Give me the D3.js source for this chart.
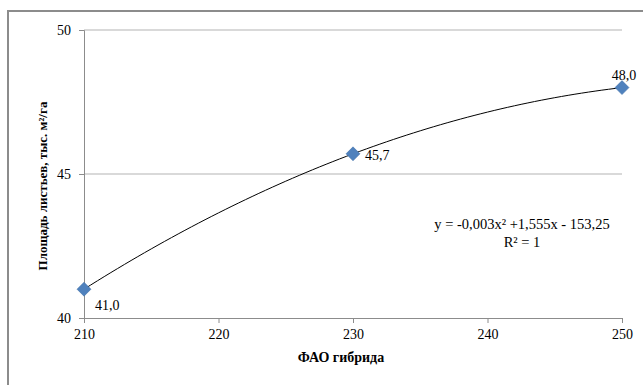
<!DOCTYPE html>
<html>
<head>
<meta charset="utf-8">
<script src="https://cdn.jsdelivr.net/npm/d3@7"></script>
<style>
  body { margin: 0; background: #fff; }
  svg text { font-family: "Liberation Serif", "DejaVu Serif", "Noto Serif", "Times New Roman", serif; }
</style>
</head>
<body>
<div id="chart"></div>
<script>
const faoValues = [210, 230, 250];
const leafArea = [41.0, 45.7, 48.0];
const pointLabels = ['41,0', '45,7', '48,0'];
const xTicks = [210, 220, 230, 240, 250];
const yTicks = [40, 45, 50];
// trend coefficients, from the equation shown on the chart
const trendCoef = [-0.003, 1.555, -153.25];
const trendLines = ['y = -0,003x² +1,555x - 153,25', 'R² = 1'];

const width = 643, height = 385;
const margin = { top: 30, right: 21, bottom: 67, left: 84 };
const serif = '"Liberation Serif", "DejaVu Serif", "Noto Serif", "Times New Roman", serif';

const svg = d3.select('#chart').append('svg')
  .attr('width', width)
  .attr('height', height)
  .attr('font-family', serif);

// frame of the chart area (only top and left edges show)
svg.append('path')
  .attr('d', `M8,${height} V11 H${width}`)
  .attr('fill', 'none')
  .attr('stroke', '#8c8c8c')
  .attr('stroke-width', 2);

const x = d3.scaleLinear().domain([210, 250]).range([margin.left, width - margin.right]);
const y = d3.scaleLinear().domain([40, 50]).range([height - margin.bottom, margin.top]);

// gridlines
svg.append('g').selectAll('line')
  .data(yTicks.slice(1))
  .enter().append('line')
  .attr('x1', x(210)).attr('x2', x(250))
  .attr('y1', d => y(d)).attr('y2', d => y(d))
  .attr('stroke', '#b3b3b3');

// axes
const xAxis = svg.append('g')
  .attr('transform', `translate(0,${y(40)})`)
  .call(d3.axisBottom(x).tickValues(xTicks).tickSize(5).tickPadding(6).tickFormat(d3.format('d')));
const yAxis = svg.append('g')
  .attr('transform', `translate(${x(210)},0)`)
  .call(d3.axisLeft(y).tickValues(yTicks).tickSize(5).tickPadding(8).tickFormat(d3.format('d')));

[xAxis, yAxis].forEach(ax => {
  ax.attr('font-family', serif).attr('font-size', 14);
  ax.select('.domain').attr('stroke', '#8c8c8c');
  ax.selectAll('.tick line').attr('stroke', '#8c8c8c');
  ax.selectAll('.tick text').attr('fill', '#000');
});

// trendline
const trendX = d3.range(210, 250.01, 0.5);
const poly = v => trendCoef[0] * v * v + trendCoef[1] * v + trendCoef[2];
svg.append('path')
  .datum(trendX)
  .attr('d', d3.line().x(d => x(d)).y(d => y(poly(d))))
  .attr('fill', 'none')
  .attr('stroke', '#000')
  .attr('stroke-width', 1);

// markers (square turned 45deg)
const pts = faoValues.map((v, i) => ({ x: v, y: leafArea[i], label: pointLabels[i] }));
svg.append('g').selectAll('path')
  .data(pts)
  .enter().append('path')
  .attr('d', d3.symbol(d3.symbolSquare, 98))
  .attr('transform', d => `translate(${x(d.x)},${y(d.y)}) rotate(45)`)
  .attr('fill', '#4f81bd')
  .attr('stroke', '#3f6fa8')
  .attr('stroke-width', 0.5);

// point labels
const labelOffsets = [[11, 21, 'start'], [12, 6, 'start'], [2, -8, 'middle']];
svg.append('g').selectAll('text')
  .data(pts)
  .enter().append('text')
  .attr('x', (d, i) => x(d.x) + labelOffsets[i][0])
  .attr('y', (d, i) => y(d.y) + labelOffsets[i][1])
  .attr('text-anchor', (d, i) => labelOffsets[i][2])
  .attr('font-size', 14)
  .text(d => d.label);

// trend equation
svg.append('g').selectAll('text')
  .data(trendLines)
  .enter().append('text')
  .attr('x', 522)
  .attr('y', (d, i) => 229 + i * 18)
  .attr('text-anchor', 'middle')
  .attr('font-size', 14.5)
  .text(d => d);

// axis titles
svg.append('text')
  .attr('x', x(230) - 12)
  .attr('y', 362)
  .attr('text-anchor', 'middle')
  .attr('font-size', 14)
  .attr('font-weight', 'bold')
  .text('ФАО гибрида');

svg.append('text')
  .attr('transform', `translate(47,${y(45) + 12}) rotate(-90)`)
  .attr('text-anchor', 'middle')
  .attr('font-size', 13)
  .attr('font-weight', 'bold')
  .text('Площадь листьев, тыс. м²/га');
</script>
</body>
</html>
